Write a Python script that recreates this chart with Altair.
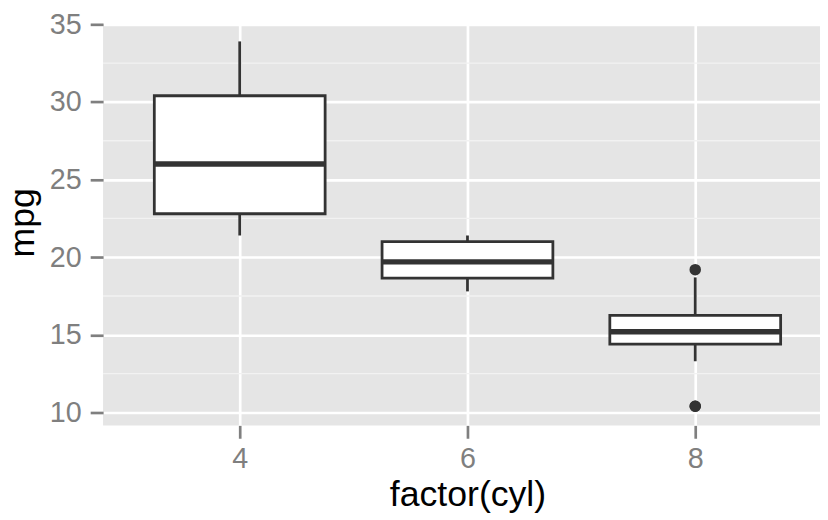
import altair as alt
import pandas as pd

# Data (mtcars mpg grouped by cylinders)
cyl_levels = [4, 6, 8]
mpg_cyl4 = [22.8, 24.4, 22.8, 32.4, 30.4, 33.9, 21.5, 27.3, 26.0, 30.4, 21.4]
mpg_cyl6 = [21.0, 21.0, 21.4, 18.1, 19.2, 17.8, 19.7]
mpg_cyl8 = [18.7, 14.3, 16.4, 17.3, 15.2, 10.4, 10.4, 14.7, 15.5, 15.2, 13.3, 19.2, 15.8, 15.0]
major_breaks = [10, 15, 20, 25, 30, 35]
minor_breaks = [12.5, 17.5, 22.5, 27.5, 32.5]

rows = []
for lvl, vals in zip(cyl_levels, [mpg_cyl4, mpg_cyl6, mpg_cyl8]):
    for v in vals:
        rows.append({"cyl": lvl, "mpg": v})
df = pd.DataFrame(rows)
minor_df = pd.DataFrame({"mpg": minor_breaks})

GREY = "#333333"
TICK_GREY = "#7F7F7F"
FONT = "Liberation Sans"
HALF_BOX = 0.75  # half of box width in x units (0.75 of a category step of 2)

y_scale = alt.Scale(domain=[9.17, 35.0], nice=False, zero=False)
y_axis = alt.Axis(
    title="mpg", values=major_breaks, grid=True, gridColor="white", gridWidth=2.7,
    domain=False, ticks=True, tickSize=13, tickWidth=2.7, tickColor=TICK_GREY,
    labelFontSize=29, labelColor=TICK_GREY, labelPadding=9, labelFont=FONT,
    titleFontSize=36, titleColor="black", titleFont=FONT, titleFontWeight="normal",
    titleAngle=270, titleX=-70, titleY=200, titleBaseline="alphabetic", titleAlign="center",
)
x_scale = alt.Scale(domain=[2.8, 2.8 + 724 / 115], nice=False, zero=False)
x_axis = alt.Axis(
    title="factor(cyl)", values=cyl_levels, labelAngle=0, grid=True,
    gridColor="white", gridWidth=2.7, domain=False, tickSize=13, tickWidth=2.7,
    tickColor=TICK_GREY, labelFontSize=29, labelColor=TICK_GREY, labelPadding=7,
    labelFont=FONT, titleFontSize=36, titleColor="black", titleFont=FONT,
    titleFontWeight="normal", titleX=368, titleY=81, titleBaseline="alphabetic",
    titleAlign="center",
)

minor = alt.Chart(minor_df).mark_rule(color="#F2F2F2", strokeWidth=1.4).encode(
    y=alt.Y("mpg:Q", scale=y_scale, axis=y_axis)
)

base = alt.Chart(df).transform_joinaggregate(
    q1="q1(mpg)", q3="q3(mpg)", med="median(mpg)", groupby=["cyl"]
).transform_calculate(
    lo="datum.q1 - 1.5 * (datum.q3 - datum.q1)",
    hi="datum.q3 + 1.5 * (datum.q3 - datum.q1)",
)

stats = base.transform_filter(
    "datum.mpg >= datum.lo && datum.mpg <= datum.hi"
).transform_aggregate(
    wmin="min(mpg)", wmax="max(mpg)", q1="max(q1)", q3="max(q3)", med="max(med)",
    groupby=["cyl"],
).transform_calculate(
    xl=f"datum.cyl - {HALF_BOX}", xr=f"datum.cyl + {HALF_BOX}"
)

whisk_lo = stats.mark_rule(color=GREY, strokeWidth=2.8).encode(
    x=alt.X("cyl:Q", scale=x_scale, axis=x_axis),
    y=alt.Y("wmin:Q", scale=y_scale, axis=y_axis),
    y2="q1:Q",
)
whisk_hi = stats.mark_rule(color=GREY, strokeWidth=2.8).encode(
    x=alt.X("cyl:Q", scale=x_scale, axis=x_axis),
    y=alt.Y("q3:Q", scale=y_scale, axis=y_axis),
    y2="wmax:Q",
)
boxes = stats.mark_rect(fill="white", stroke=GREY, strokeWidth=2.8).encode(
    x=alt.X("xl:Q", scale=x_scale, axis=x_axis),
    x2="xr:Q",
    y=alt.Y("q1:Q", scale=y_scale, axis=y_axis),
    y2="q3:Q",
)
medians = stats.mark_rule(color=GREY, strokeWidth=5.5).encode(
    x=alt.X("xl:Q", scale=x_scale, axis=x_axis),
    x2="xr:Q",
    y=alt.Y("med:Q", scale=y_scale, axis=y_axis),
)
outliers = base.transform_filter(
    "datum.mpg < datum.lo || datum.mpg > datum.hi"
).mark_circle(color=GREY, size=135, opacity=1).encode(
    x=alt.X("cyl:Q", scale=x_scale, axis=x_axis),
    y=alt.Y("mpg:Q", scale=y_scale, axis=y_axis),
)

chart = alt.layer(minor, whisk_lo, whisk_hi, boxes, medians, outliers).properties(
    width=724, height=405, autosize="none",
    padding={"left": 96, "top": 14, "right": 0, "bottom": 87},
).configure(font=FONT).configure_view(fill="#E5E5E5", strokeWidth=0)

chart.save("out.html", embed_options={"renderer": "svg", "actions": False})
